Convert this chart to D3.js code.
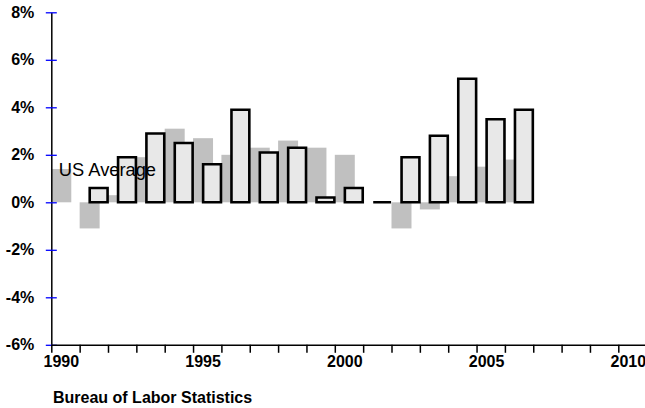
<!DOCTYPE html>
<html>
<head>
<meta charset="utf-8">
<script src="https://cdn.jsdelivr.net/npm/d3@7/dist/d3.min.js"></script>
<style>
  html, body { margin: 0; padding: 0; background: #fff; }
  svg { display: block; font-family: "Liberation Sans", Arial, sans-serif; }
</style>
</head>
<body>
<svg id="chart" width="645" height="408"></svg>
<script>
// ---- data ----
const years = [1990,1991,1992,1993,1994,1995,1996,1997,1998,1999,2000,2001,2002,2003,2004,2005,2006];
const usAverage = [1.4,-1.1,0.3,1.9,3.1,2.7,2.0,2.3,2.6,2.3,2.0,0.0,-1.1,-0.3,1.1,1.5,1.8];
const stateValues = [null,0.6,1.9,2.9,2.5,1.6,3.9,2.1,2.3,0.2,0.6,0.0,1.9,2.8,5.2,3.5,3.9];
const yTickValues = [-6,-4,-2,0,2,4,6,8];
const xTickYears = d3.range(1990, 2012);
const xLabelYears = [1990,1995,2000,2005,2010];
const seriesLabel = "US Average";
const sourceText = "Bureau of Labor Statistics";

// ---- scales ----
const svg = d3.select("#chart");
const x = d3.scaleLinear().domain([1990, 2011]).range([51.3, 646.65]);
const y = d3.scaleLinear().domain([-6, 8]).range([344.8, 12.3]);

// gray bars (US average)
svg.append("g").selectAll("rect")
  .data(years.map((yr, i) => ({yr, v: usAverage[i]})))
  .join("rect")
  .attr("x", d => x(d.yr))
  .attr("width", d => x(d.yr + 0.705) - x(d.yr))
  .attr("y", d => y(Math.max(0, d.v)))
  .attr("height", d => Math.abs(y(d.v) - y(0)))
  .attr("fill", "#c0c0c0");

// outlined bars (state)
svg.append("g").selectAll("path")
  .data(years.map((yr, i) => ({yr, v: stateValues[i]})).filter(d => d.v !== null))
  .join("path")
  .attr("d", d => {
    const x0 = x(d.yr + 0.355), x1 = x(d.yr + 0.985);
    const y0 = y(0), y1 = y(d.v);
    return `M${x0},${y0}V${y1}H${x1}V${y0}Z`;
  })
  .attr("fill", "#e8e8e8")
  .attr("stroke", "#000")
  .attr("stroke-width", 2.6)
  .attr("stroke-linejoin", "miter");

// series label
svg.append("text")
  .attr("x", x(1990) + 7.5)
  .attr("y", y(1.12))
  .attr("font-size", 18.3)
  .attr("fill", "#000")
  .text(seriesLabel);

// y axis
const yAxis = svg.append("g")
  .attr("transform", `translate(${x(1990)},0)`)
  .call(d3.axisLeft(y).tickValues(yTickValues).tickSizeOuter(0).tickSizeInner(6).tickPadding(11)
    .tickFormat(d => d + "%"));
yAxis.select(".domain").attr("stroke", "#000").attr("stroke-width", 1.5);
yAxis.selectAll(".tick line").attr("stroke", "#0000ff").attr("stroke-width", 1.3).attr("x1", 5.5).attr("x2", -5.5);
yAxis.selectAll(".tick text")
  .attr("font-size", 16).attr("font-weight", "bold").attr("fill", "#000")
  .attr("font-family", "'Liberation Sans', Arial, sans-serif");

// x axis
const xAxis = svg.append("g")
  .attr("transform", `translate(0,${y(-6)})`)
  .call(d3.axisBottom(x).tickValues(xTickYears).tickSizeOuter(0).tickSizeInner(8).tickPadding(3)
    .tickFormat(d => xLabelYears.includes(d) ? String(d) : ""));
xAxis.select(".domain").attr("stroke", "#000").attr("stroke-width", 1.5);
xAxis.selectAll(".tick line").attr("stroke", "#000").attr("stroke-width", 1.5);
xAxis.selectAll(".tick text")
  .attr("font-size", 16).attr("font-weight", "bold").attr("fill", "#000")
  .attr("x", 9.5)
  .attr("font-family", "'Liberation Sans', Arial, sans-serif");

// source text
svg.append("text")
  .attr("x", 53)
  .attr("y", 403)
  .attr("font-size", 16)
  .attr("font-weight", "bold")
  .attr("fill", "#000")
  .text(sourceText);
</script>
</body>
</html>
